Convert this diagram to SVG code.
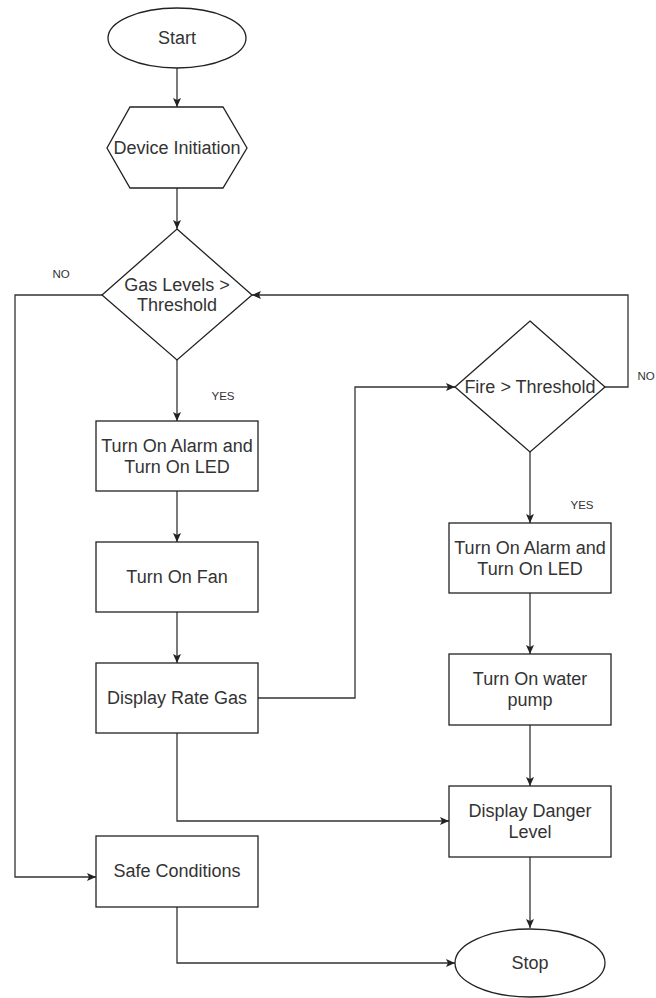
<svg xmlns="http://www.w3.org/2000/svg" width="656" height="998" viewBox="0 0 656 998">
<style>
.n{fill:#fff;stroke:#222;stroke-width:1.3}
.t{font-family:"Liberation Sans",Arial,sans-serif;font-size:18px;fill:#333;text-anchor:middle;dominant-baseline:central}
.l{font-family:"Liberation Sans",Arial,sans-serif;font-size:11.5px;fill:#333;text-anchor:middle;dominant-baseline:central}
.c{fill:none;stroke:#333;stroke-width:1.3}
</style>
<defs>
<marker id="a" markerUnits="userSpaceOnUse" markerWidth="10" markerHeight="10" refX="9" refY="4" orient="auto">
<path d="M0,0 L9,4 L0,8 L2,4 z" fill="#222"/>
</marker>
</defs>
<g id="connectors">
<path class="c" d="M177,68 L177,107" marker-end="url(#a)"/>
<path class="c" d="M177,188 L177,229" marker-end="url(#a)"/>
<path class="c" d="M102,295 L15,295 L15,877 L96,877" marker-end="url(#a)"/>
<path class="c" d="M177,360 L177,421" marker-end="url(#a)"/>
<path class="c" d="M177,491 L177,542" marker-end="url(#a)"/>
<path class="c" d="M177,612 L177,663" marker-end="url(#a)"/>
<path class="c" d="M258,698 L355,698 L355,387 L455,387" marker-end="url(#a)"/>
<path class="c" d="M177,733 L177,821 L449,821" marker-end="url(#a)"/>
<path class="c" d="M605,387 L628,387 L628,295 L252,295" marker-end="url(#a)"/>
<path class="c" d="M530,452 L530,523" marker-end="url(#a)"/>
<path class="c" d="M530,593 L530,654" marker-end="url(#a)"/>
<path class="c" d="M530,725 L530,786" marker-end="url(#a)"/>
<path class="c" d="M530,857 L530,928" marker-end="url(#a)"/>
<path class="c" d="M177,907 L177,963 L455,963" marker-end="url(#a)"/>
<text class="l" x="61" y="274">NO</text>
<text class="l" x="223" y="396">YES</text>
<text class="l" x="646" y="376">NO</text>
<text class="l" x="582" y="505">YES</text>
</g>
<g id="start"><ellipse class="n" cx="177" cy="38" rx="69" ry="30"/><text class="t" x="177" y="38">Start</text></g>
<g id="init"><polygon class="n" points="130,107 223,107 247,148 223,188 130,188 107,148"/><text class="t" x="177" y="148">Device Initiation</text></g>
<g id="gas"><polygon class="n" points="177,229 252,295 177,360 102,295"/><text class="t" x="177" y="285">Gas Levels &gt;</text><text class="t" x="177" y="305">Threshold</text></g>
<g id="alarm1"><rect class="n" x="96" y="421" width="162" height="70"/><text class="t" x="177" y="446">Turn On Alarm and</text><text class="t" x="177" y="467">Turn On LED</text></g>
<g id="fan"><rect class="n" x="96" y="542" width="162" height="70"/><text class="t" x="177" y="577">Turn On Fan</text></g>
<g id="rate"><rect class="n" x="96" y="663" width="162" height="70"/><text class="t" x="177" y="698">Display Rate Gas</text></g>
<g id="safe"><rect class="n" x="96" y="836" width="162" height="71"/><text class="t" x="177" y="871">Safe Conditions</text></g>
<g id="fire"><polygon class="n" points="530,321 605,387 530,452 455,387"/><text class="t" x="530" y="387">Fire &gt; Threshold</text></g>
<g id="alarm2"><rect class="n" x="449" y="523" width="162" height="70"/><text class="t" x="530" y="548">Turn On Alarm and</text><text class="t" x="530" y="569">Turn On LED</text></g>
<g id="pump"><rect class="n" x="449" y="654" width="162" height="71"/><text class="t" x="530" y="679">Turn On water</text><text class="t" x="530" y="700">pump</text></g>
<g id="danger"><rect class="n" x="449" y="786" width="162" height="71"/><text class="t" x="530" y="811">Display Danger</text><text class="t" x="530" y="832">Level</text></g>
<g id="stop"><ellipse class="n" cx="530" cy="963" rx="75" ry="34"/><text class="t" x="530" y="963">Stop</text></g>
</svg>
